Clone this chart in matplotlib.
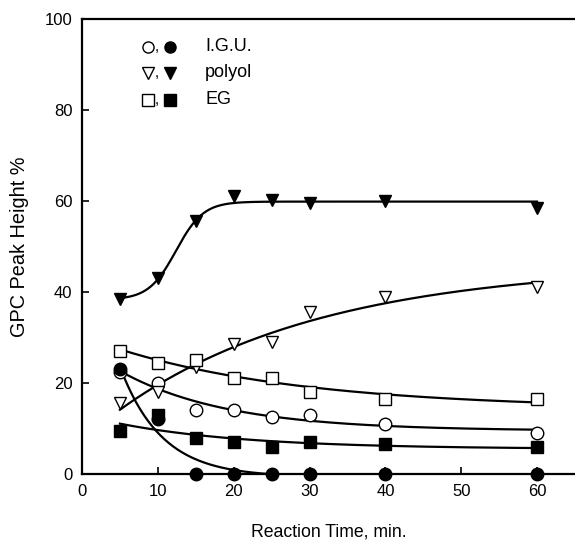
import numpy as np
import matplotlib
matplotlib.use("Agg")
import matplotlib.pyplot as plt

plt.rcParams['font.family'] = ['Liberation Sans', 'DejaVu Sans']

time = [5, 10, 15, 20, 25, 30, 40, 60]
igu_open = [22.5, 20.0, 14.0, 14.0, 12.5, 13.0, 11.0, 9.0]
igu_filled = [23.0, 12.0, 0.0, 0.0, 0.0, 0.0, 0.0, 0.0]
polyol_open = [15.5, 18.0, 23.5, 28.5, 29.0, 35.5, 39.0, 41.0]
polyol_filled = [38.5, 43.0, 55.5, 61.0, 60.2, 59.5, 60.0, 58.5]
eg_open = [27.0, 24.5, 25.0, 21.0, 21.0, 18.0, 16.5, 16.5]
eg_filled = [9.5, 13.0, 8.0, 7.0, 6.0, 7.0, 6.5, 6.0]
legend_labels = ["I.G.U.", "polyol", "EG"]

x = np.array(time, float)
xs = np.linspace(5, 60, 300)


def fit_exp(y, kmax=1.0):
    y = np.asarray(y, float)
    best = None
    for k in np.linspace(0.002, kmax, 2000):
        A = np.column_stack([np.ones_like(x), np.exp(-k * x)])
        coef, *_ = np.linalg.lstsq(A, y, rcond=None)
        r = np.sum((A @ coef - y) ** 2)
        if best is None or r < best[0]:
            best = (r, k, coef)
    _, k, (c, a) = best
    return c + a * np.exp(-k * xs)


def fit_logistic(y):
    y = np.asarray(y, float)
    best = None
    for x0 in np.linspace(8, 18, 101):
        for s in np.linspace(1.8, 5, 65):
            A = np.column_stack([np.ones_like(x), 1 / (1 + np.exp(-(x - x0) / s))])
            coef, *_ = np.linalg.lstsq(A, y, rcond=None)
            r = np.sum((A @ coef - y) ** 2)
            if best is None or r < best[0]:
                best = (r, x0, s, coef)
    _, x0, s, (lo, d) = best
    return lo + d / (1 + np.exp(-(xs - x0) / s))


fig = plt.figure(figsize=(5.75, 5.46), dpi=100)
ax = fig.add_axes([82 / 575, 72 / 546, 493 / 575, 455 / 546])

lw = 1.6
ms = 9
series = [
    (igu_open, 'o', 'none', fit_exp),
    (igu_filled, 'o', 'black', lambda y: fit_exp(y, 0.2)),
    (polyol_open, 'v', 'none', fit_exp),
    (polyol_filled, 'v', 'black', fit_logistic),
    (eg_open, 's', 'none', fit_exp),
    (eg_filled, 's', 'black', fit_exp),
]
for y, m, fc, fitter in series:
    ax.plot(xs, fitter(y), color='black', lw=lw, zorder=2)
    ax.plot(time, y, linestyle='none', marker=m, markersize=ms,
            markerfacecolor=fc if fc != 'none' else 'white',
            markeredgecolor='black', markeredgewidth=1.0, zorder=3, clip_on=False)

# manual legend
rows = [0.939, 0.882, 0.822]
markers = ['o', 'v', 's']
for yy, m, lab in zip(rows, markers, legend_labels):
    ax.plot([0.134], [yy], marker=m, markersize=8, markerfacecolor='white',
            markeredgecolor='black', markeredgewidth=1.0, transform=ax.transAxes,
            linestyle='none')
    ax.text(0.152, yy, ',', transform=ax.transAxes, ha='center', va='center', fontsize=11)
    ax.plot([0.178], [yy], marker=m, markersize=8, markerfacecolor='black',
            markeredgecolor='black', transform=ax.transAxes, linestyle='none')
    ax.text(0.25, yy, lab, transform=ax.transAxes, ha='left', va='center', fontsize=13)

ax.set_xlim(0, 65)
ax.set_ylim(0, 100)
ax.set_xticks([0, 10, 20, 30, 40, 50, 60])
ax.set_yticks([0, 20, 40, 60, 80, 100])
ax.tick_params(direction='in', length=5, width=1.2, labelsize=12, pad=7)
ax.spines['right'].set_visible(False)
for sp in ['left', 'bottom', 'top']:
    ax.spines[sp].set_linewidth(1.6)

ax.set_xlabel('Reaction Time, min.', fontsize=12.7, labelpad=18)
ax.set_ylabel('GPC Peak Height %', fontsize=14.3, labelpad=11)

fig.savefig('out.png', dpi=100)
